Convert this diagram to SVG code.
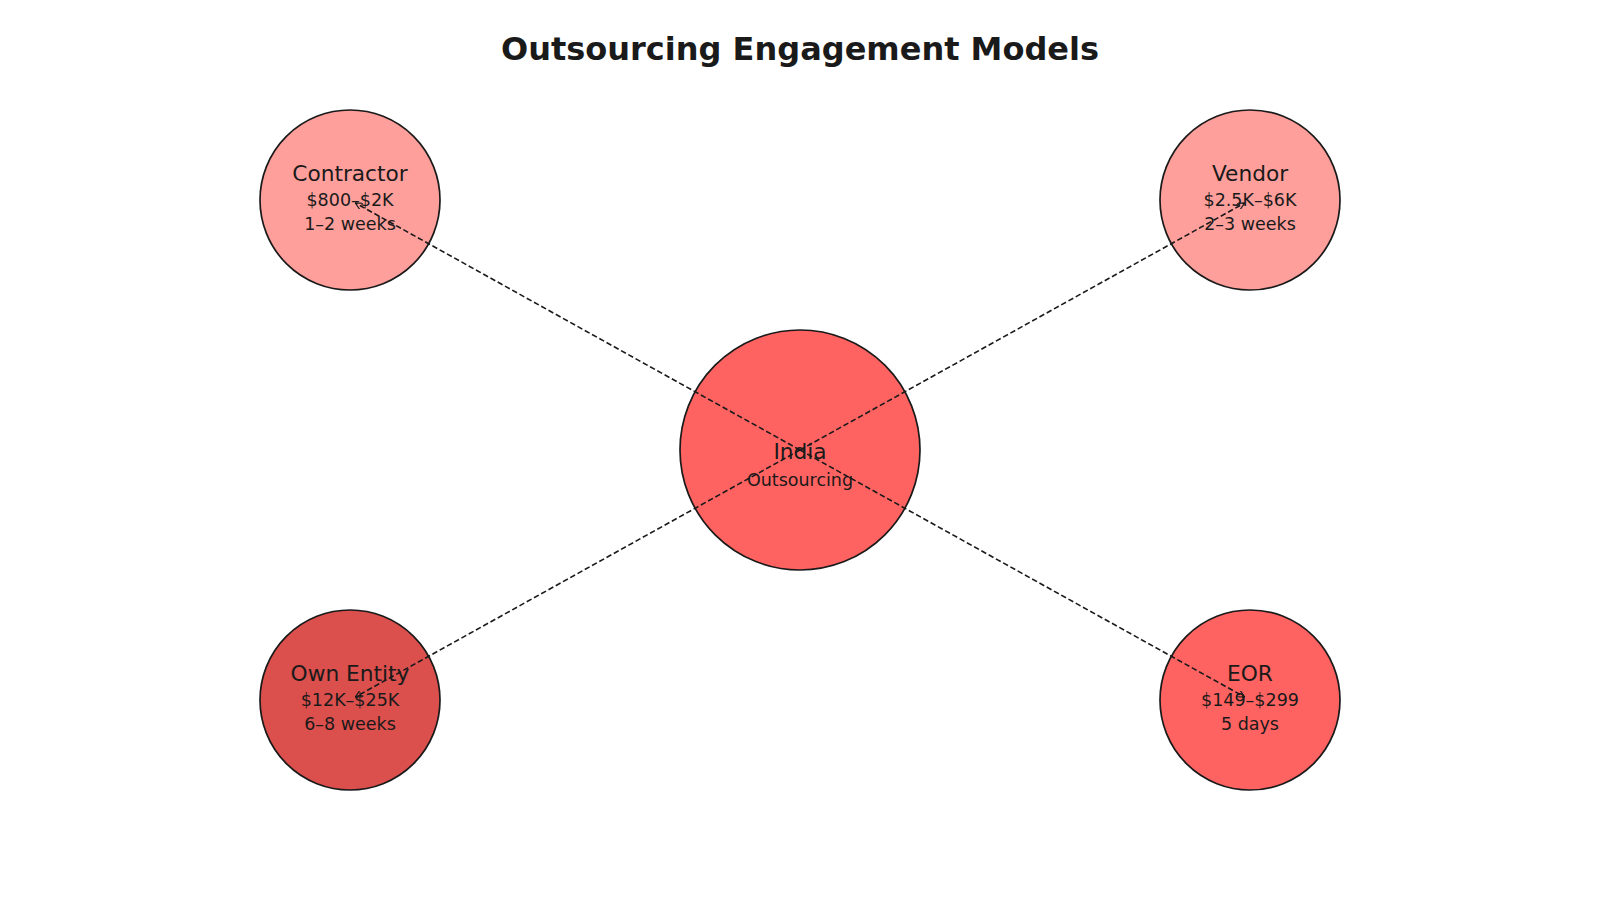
<svg xmlns="http://www.w3.org/2000/svg" width="1600" height="900" viewBox="0 0 1600 900">
<style>
.node{stroke:#1a1a1a;stroke-width:1.7}
.light{fill:#ff9f9b}
.mid{fill:#ff6361}
.dark{fill:#db4f4d}
text{font-family:"DejaVu Sans",sans-serif;fill:#1a1a1a;text-anchor:middle;dominant-baseline:central}
.t{font-size:21.7px}
.s{font-size:17.5px}
.title{font-size:32px;font-weight:bold}
.conn{stroke:#1a1a1a;stroke-width:1.6;stroke-dasharray:5.5,2.8;fill:none}
</style>
<defs>
<marker id="ah" viewBox="0 0 10 10" refX="10" refY="5" markerWidth="7" markerHeight="7" markerUnits="userSpaceOnUse" orient="auto">
<path d="M0,0 L10,5 L0,10" fill="none" stroke="#1a1a1a" stroke-width="1.6"/>
</marker>
</defs>
<rect width="1600" height="900" fill="#ffffff"/>
<text class="title" x="800" y="49">Outsourcing Engagement Models</text>
<g id="node-india">
<circle class="node mid" cx="800" cy="450" r="120"/>
<text class="t" x="800" y="451">India</text>
<text class="s" x="800" y="480">Outsourcing</text>
</g>
<g id="node-contractor">
<circle class="node light" cx="350" cy="200" r="90"/>
<text class="t" x="350" y="173">Contractor</text>
<text class="s" x="350" y="199.5">$800–$2K</text>
<text class="s" x="350" y="224">1–2 weeks</text>
</g>
<g id="node-vendor">
<circle class="node light" cx="1250" cy="200" r="90"/>
<text class="t" x="1250" y="173">Vendor</text>
<text class="s" x="1250" y="199.5">$2.5K–$6K</text>
<text class="s" x="1250" y="224">2–3 weeks</text>
</g>
<g id="node-own-entity">
<circle class="node dark" cx="350" cy="700" r="90"/>
<text class="t" x="350" y="673">Own Entity</text>
<text class="s" x="350" y="699.5">$12K–$25K</text>
<text class="s" x="350" y="724">6–8 weeks</text>
</g>
<g id="node-eor">
<circle class="node mid" cx="1250" cy="700" r="90"/>
<text class="t" x="1250" y="673">EOR</text>
<text class="s" x="1250" y="699.5">$149–$299</text>
<text class="s" x="1250" y="724">5 days</text>
</g>
<g id="connectors">
<line class="conn" x1="800" y1="450" x2="355.2" y2="202.9" marker-end="url(#ah)"/>
<line class="conn" x1="800" y1="450" x2="1244.8" y2="202.9" marker-end="url(#ah)"/>
<line class="conn" x1="800" y1="450" x2="355.2" y2="697.1" marker-end="url(#ah)"/>
<line class="conn" x1="800" y1="450" x2="1244.8" y2="697.1" marker-end="url(#ah)"/>
</g>
</svg>
